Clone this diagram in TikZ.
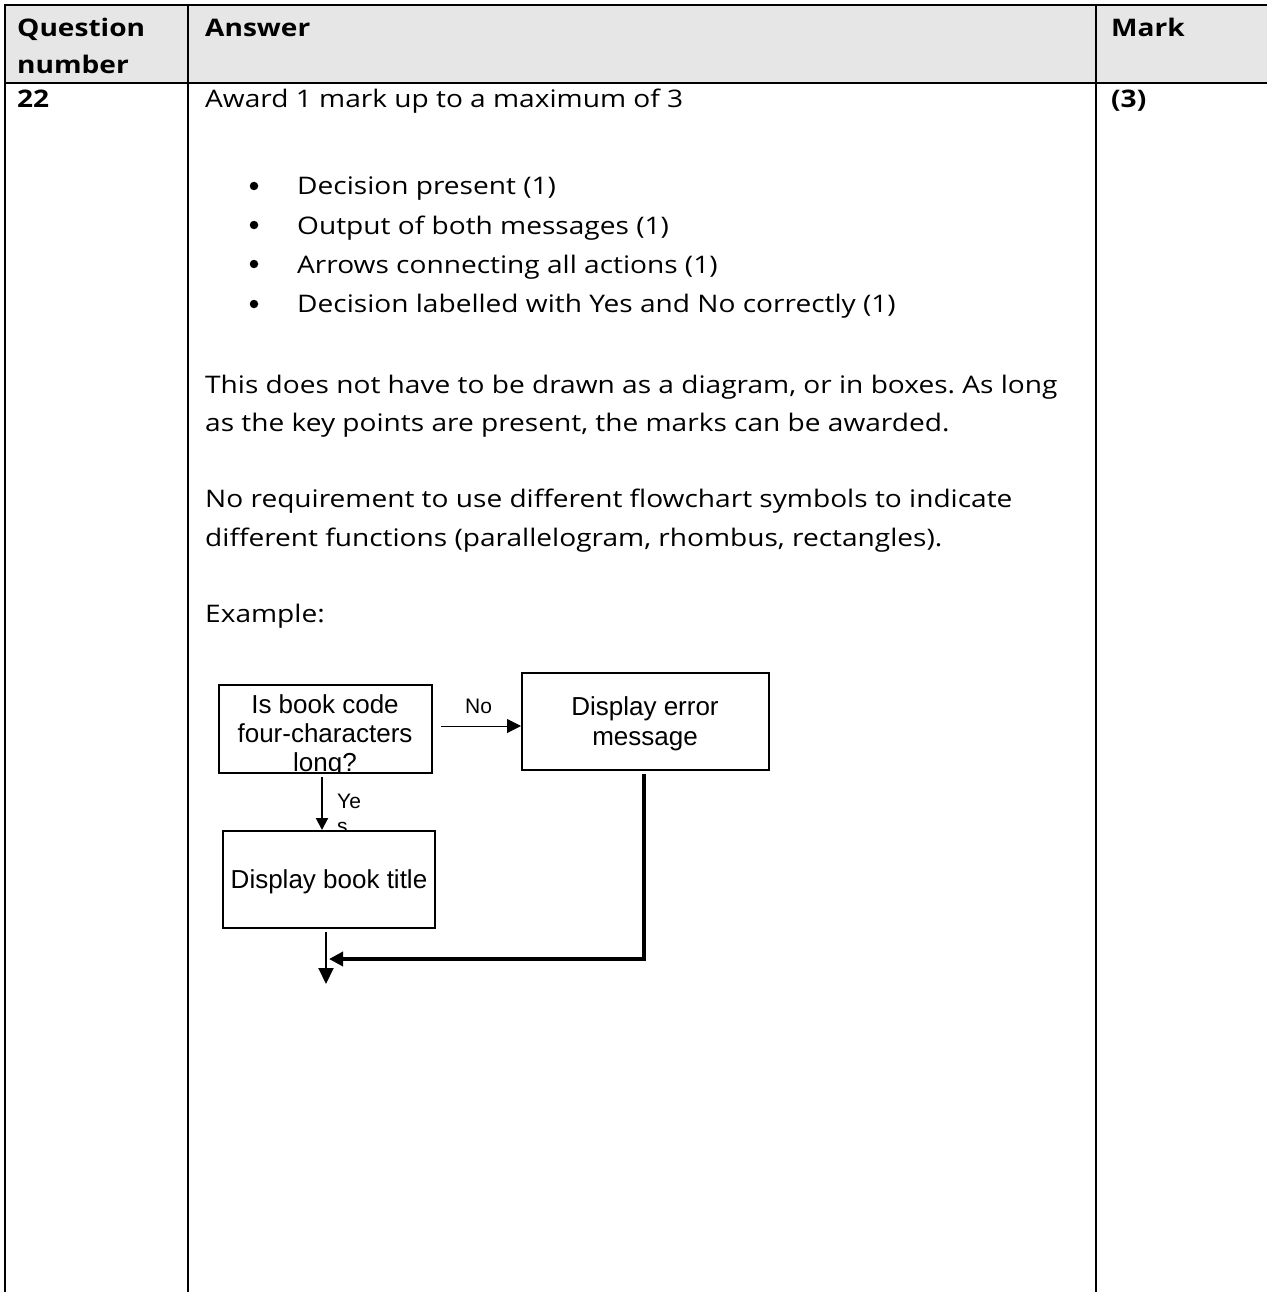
\documentclass[tikz,border=0pt]{standalone}
\usepackage{fontspec}
\setmainfont{Open Sans}[FakeStretch=1.16]
\newfontfamily\arialf{Liberation Sans}
\usetikzlibrary{arrows.meta}
\definecolor{headgray}{RGB}{231,230,230}
\frenchspacing
\begin{document}
\begin{tikzpicture}[x=1pt,y=-1pt,
  body/.style={anchor=base west, inner sep=0pt, font=\fontsize{24.2}{39}\selectfont},
  head/.style={anchor=base west, inner sep=0pt, font=\fontsize{24.2}{39}\selectfont\bfseries},
  grid/.style={line width=2pt},
  fbox/.style={draw, line width=2pt, fill=white},
  ftext/.style={anchor=base, inner sep=0pt, font=\arialf\fontsize{26}{30}\selectfont},
  lab/.style={anchor=base west, inner sep=0pt, font=\arialf\fontsize{21}{25}\selectfont},
  dot/.style={circle, fill=black, inner sep=0pt, minimum size=8.5pt},
  thinarrow/.style={line width=1pt, -{Triangle[length=14pt,width=14pt]}},
  midarrow/.style={line width=2pt, -{Triangle[length=12pt,width=12pt]}}
]
\useasboundingbox (0,0) rectangle (1267,1292);
% header background
\fill[headgray] (5,5) rectangle (1267,83);
% grid lines
\draw[grid] (4,5) -- (1267,5);
\draw[grid] (4,83) -- (1267,83);
\draw[grid] (5,4) -- (5,1292);
\draw[grid] (187.5,4) -- (187.5,1292);
\draw[grid] (1096,4) -- (1096,1292);
% header texts
\node[head] (q1) at (17,37) {Question};
\node[head] (q2) at (17,74) {number};
\node[head] (ans) at (205,37) {Answer};
\node[head] (mark) at (1111,37) {Mark};
% row texts
\node[head] (qnum) at (17,108) {22};
\node[head] (mk) at (1111,108) {(3)};
\node[body] (award) at (205,108) {Award 1 mark up to a maximum of 3};
\node[dot] (d1) at (254,186) {};
\node[dot] (d2) at (254,225) {};
\node[dot] (d3) at (254,264) {};
\node[dot] (d4) at (254,304) {};
\node[body] (b1) at (297,195) {Decision present (1)};
\node[body] (b2) at (297,234) {Output of both messages (1)};
\node[body] (b3) at (297,273) {Arrows connecting all actions (1)};
\node[body] (b4) at (297,312) {Decision labelled with Yes and No correctly (1)};
\node[body] (p1) at (205,393) {This does not have to be drawn as a diagram, or in boxes. As long};
\node[body] (p2) at (205,431) {as the key points are present, the marks can be awarded.};
\node[body] (p3) at (205,507) {No requirement to use different flowchart symbols to indicate};
\node[body] (p4) at (205,546) {different functions (parallelogram, rhombus, rectangles).};
\node[body] (ex) at (205,622) {Example:};
% flowchart
\node[lab] (no) at (465,713) {No};
\node[lab] (ye) at (337,808) {Ye};
\node[lab] (s) at (337,833) {s};
\draw[fbox] (219,685) rectangle (432,773);
\node[draw=none, inner sep=0pt, minimum width=213pt, minimum height=88pt] (box1) at (325.5,729) {};
\begin{scope}
\clip (219,685) rectangle (432,772);
\node[ftext] (t1) at (325,713) {Is book code};
\node[ftext] (t2) at (325,742) {four-characters};
\node[ftext] (t3) at (325,771) {long?};
\end{scope}
\node[fbox, minimum width=247pt, minimum height=97pt, inner sep=0pt] (box2) at (645.5,721.5) {};
\node[ftext] (e1) at (645,715) {Display error};
\node[ftext] (e2) at (645,745) {message};
\node[fbox, minimum width=212pt, minimum height=97pt, inner sep=0pt] (box3) at (329,879.5) {};
\node[ftext] (bt) at (329,888) {Display book title};
\coordinate (nostart) at (441,726);
\draw[thinarrow] (nostart) -- (box2.west |- nostart);
\coordinate (yesstart) at (322,777);
\draw[midarrow] (yesstart) -- (yesstart |- box3.north);
\coordinate (errstart) at (644,774);
\coordinate (errend) at (329,959);
\draw[line width=4pt, -{Triangle[length=14pt,width=14pt]}] (errstart) |- (errend);
\coordinate (outstart) at (326,932);
\coordinate (outend) at (326,984);
\draw[line width=2pt, -{Triangle[length=16pt,width=15pt]}] (outstart) -- (outend);
\end{tikzpicture}
\end{document}
